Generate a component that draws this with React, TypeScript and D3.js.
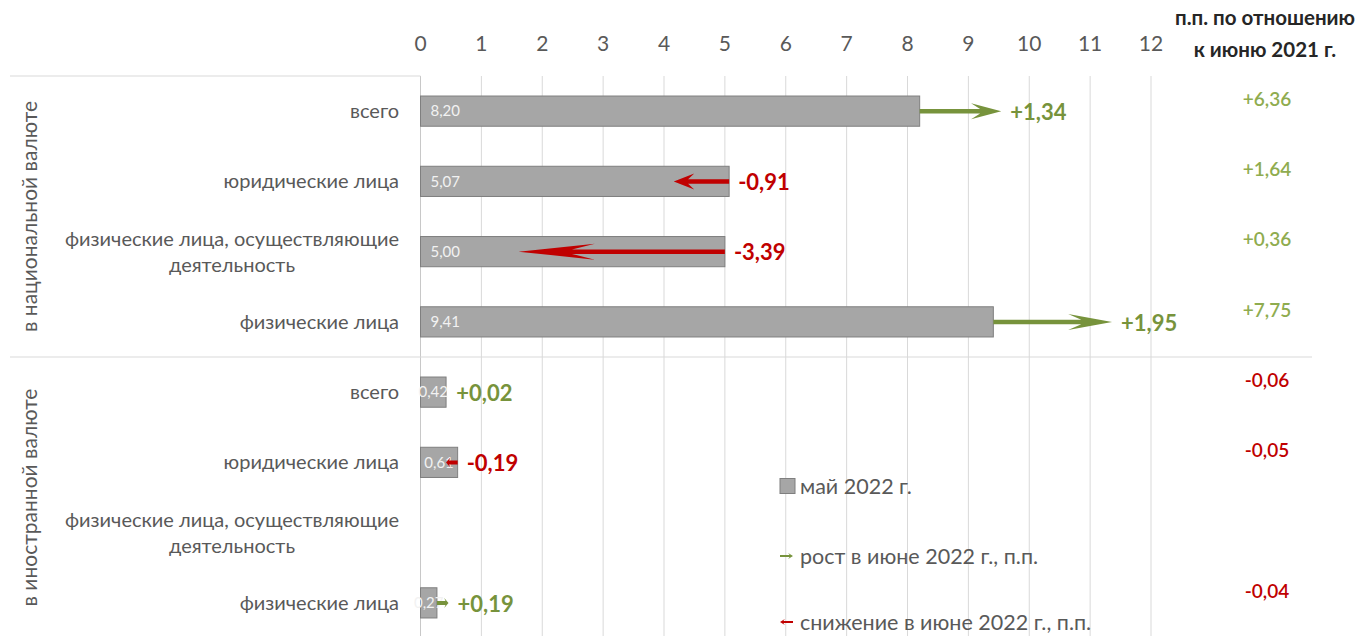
import React, { useEffect, useRef } from "react";
import * as d3 from "d3";

const groups = ["в национальной валюте", "в иностранной валюте"];
const categories = [
  "всего",
  "юридические лица",
  "физические лица, осуществляющие деятельность",
  "физические лица",
  "всего",
  "юридические лица",
  "физические лица, осуществляющие деятельность",
  "физические лица",
];
const groupOf = [0, 0, 0, 0, 1, 1, 1, 1];
const may2022: (number | null)[] = [8.2, 5.07, 5.0, 9.41, 0.42, 0.61, null, 0.27];
const juneChange: (number | null)[] = [1.34, -0.91, -3.39, 1.95, 0.02, -0.19, null, 0.19];
const vsJune2021: (number | null)[] = [6.36, 1.64, 0.36, 7.75, -0.06, -0.05, null, -0.04];
const xTicks = [0, 1, 2, 3, 4, 5, 6, 7, 8, 9, 10, 11, 12];
const headerLines = ["п.п. по отношению", "к июню 2021 г."];
const legendLabels = ["май 2022 г.", "рост в июне 2022 г., п.п.", "снижение в июне 2022 г., п.п."];

const W = 1359;
const H = 636;
const FONT = "Lato, 'Open Sans', sans-serif";
const GRAY = "#595959";
const GREEN = "#77933c";
const GREEN_LIGHT = "#8fac4f";
const RED = "#c00000";
const BAR = "#a6a6a6";
const BAR_STROKE = "#7f7f7f";
const GRID = "#d9d9d9";

const loc = d3.formatLocale({
  decimal: ",",
  thousands: " ",
  grouping: [3],
  currency: ["", ""],
  minus: "-",
});
const fSigned = loc.format("+.2f");
const fPlain = loc.format(".2f");

function arrowPath(x1: number, x2: number, y: number, t: number, hw: number) {
  const L = Math.abs(x2 - x1);
  const d = x2 >= x1 ? 1 : -1;
  const h = Math.max(4, 0.37 * L);
  const notch = 0.7 * h;
  const p: [number, number][] = [
    [x1, y - t / 2],
    [x2 - d * notch, y - t / 2],
    [x2 - d * h, y - hw],
    [x2, y],
    [x2 - d * h, y + hw],
    [x2 - d * notch, y + t / 2],
    [x1, y + t / 2],
  ];
  return "M" + p.map((q) => q.join(",")).join("L") + "Z";
}

export default function App() {
  const ref = useRef<SVGSVGElement | null>(null);

  useEffect(() => {
    const svg = d3.select(ref.current);
    svg.selectAll("*").remove();

    const x = d3.scaleLinear().domain([0, 12]).range([420.5, 1151]);
    const y = d3
      .scaleBand<number>()
      .domain(d3.range(categories.length))
      .range([76, 638])
      .paddingInner(0.57)
      .paddingOuter(0.285);
    const step = y.step();
    const bw = y.bandwidth();
    const cy = (i: number) => (y(i) as number) + bw / 2;
    const plotTop = 76;

    const g = svg.append("g").attr("font-family", FONT);

    // gridlines
    g.append("g")
      .selectAll("line")
      .data(xTicks)
      .join("line")
      .attr("x1", (d) => x(d))
      .attr("x2", (d) => x(d))
      .attr("y1", plotTop)
      .attr("y2", H)
      .attr("stroke", (d) => (d === 0 ? "#c8c8c8" : GRID))
      .attr("stroke-width", 1);

    // category area frame lines
    g.append("line")
      .attr("x1", 10)
      .attr("x2", x(0))
      .attr("y1", plotTop)
      .attr("y2", plotTop)
      .attr("stroke", GRID);
    g.append("line")
      .attr("x1", 10)
      .attr("x2", 1312)
      .attr("y1", plotTop + step * 4)
      .attr("y2", plotTop + step * 4)
      .attr("stroke", GRID);

    // axis tick labels
    g.append("g")
      .selectAll("text")
      .data(xTicks)
      .join("text")
      .attr("x", (d) => x(d))
      .attr("y", 44)
      .attr("dy", "0.35em")
      .attr("text-anchor", "middle")
      .attr("font-size", 21)
      .attr("fill", GRAY)
      .text((d) => String(d));

    // header
    g.append("g")
      .selectAll("text")
      .data(headerLines)
      .join("text")
      .attr("x", 1265)
      .attr("y", (_, i) => 18 + i * 32)
      .attr("dy", "0.35em")
      .attr("text-anchor", "middle")
      .attr("font-size", 20.5)
      .attr("font-weight", "bold")
      .attr("fill", "#262626")
      .text((d) => d);

    // group labels
    groups.forEach((name, gi) => {
      const idx = groupOf.map((v, i) => (v === gi ? i : -1)).filter((i) => i >= 0);
      const y0 = plotTop + step * idx[0];
      const y1 = plotTop + step * (idx[idx.length - 1] + 1);
      const mid = (y0 + y1) / 2;
      g.append("text")
        .attr("transform", `translate(30,${mid}) rotate(-90)`)
        .attr("dy", "0.35em")
        .attr("text-anchor", "middle")
        .attr("font-size", 21)
        .attr("fill", GRAY)
        .text(name);
    });

    // category labels (wrapped)
    const labelRight = 399;
    const maxW = 350;
    const catSize = 20;
    categories.forEach((cat, i) => {
      const words = cat.split(" ");
      const lines: string[] = [];
      const probe = g
        .append("text")
        .attr("font-size", catSize)
        .attr("visibility", "hidden");
      let cur = "";
      words.forEach((w) => {
        const test = cur ? cur + " " + w : w;
        probe.text(test);
        const len = (probe.node() as SVGTextElement).getComputedTextLength();
        if (len > maxW && cur) {
          lines.push(cur);
          cur = w;
        } else cur = test;
      });
      if (cur) lines.push(cur);
      const widths = lines.map((l) => {
        probe.text(l);
        return (probe.node() as SVGTextElement).getComputedTextLength();
      });
      probe.remove();
      const blockW = Math.max(...widths);
      const lh = 26;
      lines.forEach((l, li) => {
        g.append("text")
          .attr("x", labelRight - blockW / 2)
          .attr("y", cy(i) + (li - (lines.length - 1) / 2) * lh)
          .attr("dy", "0.35em")
          .attr("text-anchor", "middle")
          .attr("font-size", catSize)
          .attr("fill", GRAY)
          .text(l);
      });
    });

    // bars
    const barIdx = d3.range(categories.length).filter((i) => may2022[i] != null);
    g.append("g")
      .selectAll("rect")
      .data(barIdx)
      .join("rect")
      .attr("x", x(0))
      .attr("y", (i) => y(i) as number)
      .attr("width", (i) => x(may2022[i] as number) - x(0))
      .attr("height", bw)
      .attr("fill", BAR)
      .attr("stroke", BAR_STROKE)
      .attr("stroke-width", 1);

    // bar value labels
    g.append("g")
      .selectAll("text")
      .data(barIdx)
      .join("text")
      .attr("x", (i) => {
        const wpx = x(may2022[i] as number) - x(0);
        return wpx > 45 ? x(0) + 10 : x(0) + wpx / 2;
      })
      .attr("y", (i) => cy(i))
      .attr("dy", "0.35em")
      .attr("text-anchor", (i) => (x(may2022[i] as number) - x(0) > 45 ? "start" : "middle"))
      .attr("font-size", 15)
      .attr("fill", "#f2f2f2")
      .text((i) => fPlain(may2022[i] as number));

    // arrows
    const arrIdx = barIdx.filter((i) => juneChange[i] != null);
    arrIdx.forEach((i) => {
      const s = may2022[i] as number;
      const c = juneChange[i] as number;
      const e = s + c;
      const col = c >= 0 ? GREEN : RED;
      const big = groupOf[i] === 0;
      if (Math.abs(x(e) - x(s)) > 2) {
        g.append("path")
          .attr("d", arrowPath(x(s), x(e), cy(i), big ? 4.5 : 4, big ? 8 : 5))
          .attr("fill", col);
      }
      g.append("text")
        .attr("x", x(Math.max(s, e)) + 9)
        .attr("y", cy(i) + 1)
        .attr("dy", "0.35em")
        .attr("font-size", 22)
        .attr("font-weight", "bold")
        .attr("fill", col)
        .text(fSigned(c));
    });

    // right column: vs June 2021
    const yoyIdx = d3.range(categories.length).filter((i) => vsJune2021[i] != null);
    g.append("g")
      .selectAll("text")
      .data(yoyIdx)
      .join("text")
      .attr("x", 1267)
      .attr("y", (i) => cy(i) - 12)
      .attr("dy", "0.35em")
      .attr("text-anchor", "middle")
      .attr("font-size", 19)
      .attr("font-weight", 600)
      .attr("fill", (i) => ((vsJune2021[i] as number) >= 0 ? GREEN_LIGHT : RED))
      .text((i) => fSigned(vsJune2021[i] as number));

    // legend
    const lx = 780;
    const ly = [486, 556, 622];
    const leg = g.append("g");
    leg.append("rect")
      .attr("x", lx)
      .attr("y", ly[0] - 7.5)
      .attr("width", 15)
      .attr("height", 15)
      .attr("fill", BAR)
      .attr("stroke", BAR_STROKE);
    leg.append("path").attr("d", arrowPath(lx, lx + 13, ly[1], 2, 3)).attr("fill", GREEN);
    leg.append("path").attr("d", arrowPath(lx + 13, lx, ly[2], 2, 3)).attr("fill", RED);
    leg.selectAll("text.lg")
      .data(legendLabels)
      .join("text")
      .attr("class", "lg")
      .attr("x", lx + 20)
      .attr("y", (_, k) => ly[k])
      .attr("dy", "0.35em")
      .attr("font-size", 21.5)
      .attr("fill", GRAY)
      .text((d) => d);
  }, []);

  return (
    <svg
      ref={ref}
      width={W}
      height={H}
      style={{ position: "absolute", left: 0, top: 0, background: "#fff" }}
    />
  );
}
